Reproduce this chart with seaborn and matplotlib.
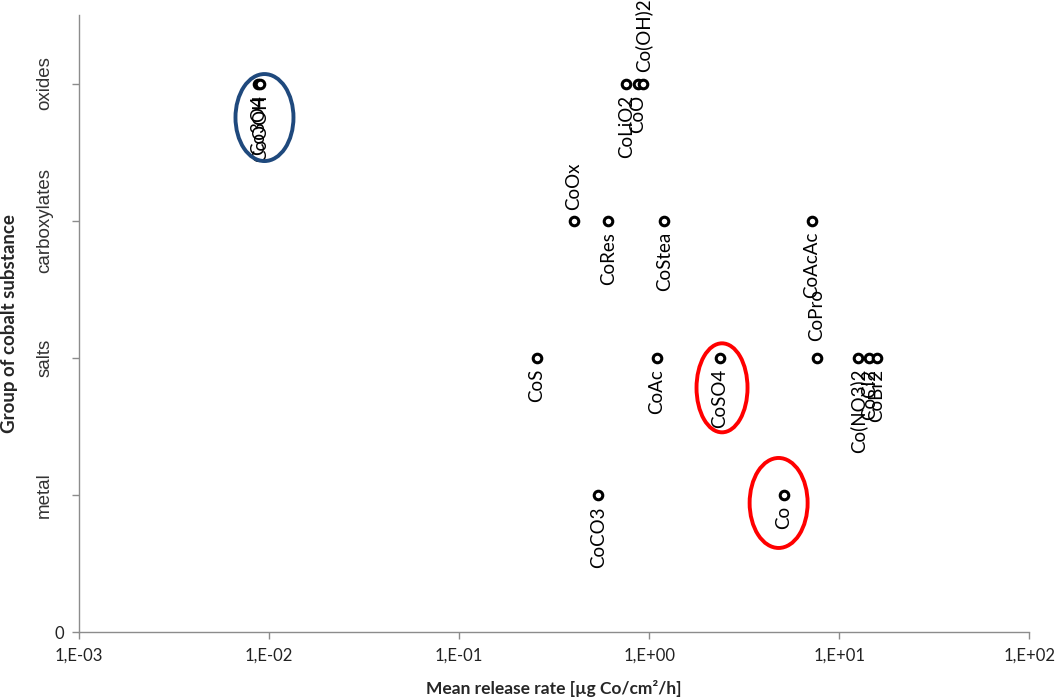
import matplotlib
matplotlib.use("Agg")
import matplotlib.pyplot as plt
import seaborn as sns
import pandas as pd
from matplotlib.patches import Ellipse
from matplotlib.transforms import ScaledTranslation

# Cobalt substances, grouped by type, with their mean release rates
substances = ["Co3O4", "CoOOH", "CoLiO2", "CoO", "Co(OH)2",
              "CoOx", "CoRes", "CoStea", "CoAcAc",
              "CoS", "CoAc", "CoSO4", "CoPro", "Co(NO3)2", "CoCl2", "CoBr2",
              "CoCO3", "Co"]
release_rate = [0.0088, 0.0090, 0.76, 0.87, 0.93,
                0.40, 0.61, 1.20, 7.2,
                0.257, 1.10, 2.36, 7.6, 12.6, 14.4, 15.8,
                0.54, 5.1]
group_level = [4, 4, 4, 4, 4,
               3, 3, 3, 3,
               2, 2, 2, 2, 2, 2, 2,
               1, 1]
group_names = ["metal", "salts", "carboxylates", "oxides"]
x_ticks = [1e-3, 1e-2, 1e-1, 1e0, 1e1, 1e2]
x_tick_labels = ["1,E-03", "1,E-02", "1,E-01", "1,E+00", "1,E+01", "1,E+02"]

# labels drawn above their marker (all others go below), with their gap in points
label_above = {"Co(OH)2": 8, "CoOx": 8, "CoPro": 12}

df = pd.DataFrame({"substance": substances, "rate": release_rate, "group": group_level})

sns.set_theme(style="white")
plt.rcParams["font.family"] = ["Lato", "DejaVu Sans"]

fig = plt.figure(figsize=(10.6, 7.0), dpi=100)
ax = fig.add_axes([0.0745, 0.097, 0.8965, 0.8816])

sns.scatterplot(data=df, x="rate", y="group", ax=ax, marker="o", s=38,
                color="white", edgecolor="black", linewidth=2.2, zorder=3, legend=False)

ax.set_xscale("log")
ax.set_xlim(1e-3, 1e2)
ax.set_ylim(0, 4.5)
ax.set_xticks(x_ticks)
ax.set_xticklabels(x_tick_labels, fontsize=12, color="#222222")
ax.xaxis.set_minor_locator(matplotlib.ticker.NullLocator())
ax.set_yticks([0, 1, 2, 3, 4])
ax.set_yticklabels(["0", "", "", "", ""], fontsize=12, color="#222222")

# category names for the y levels
for lvl, name in enumerate(group_names, start=1):
    ax.text(-0.036, lvl, name, transform=ax.get_yaxis_transform(), rotation=90,
            ha="center", va="center", fontsize=13.5, family="Liberation Sans", color="#333333")

for side in ["top", "right"]:
    ax.spines[side].set_visible(False)
for side in ["left", "bottom"]:
    ax.spines[side].set_color("#8c8c8c")
    ax.spines[side].set_linewidth(1.0)
ax.tick_params(axis="both", which="major", length=5, width=1.0, color="#8c8c8c",
               direction="out", bottom=True, left=True, pad=6)
ax.grid(False)

ax.set_xlabel("Mean release rate [µg Co/cm²/h]", fontsize=12.5, fontweight="bold")
ax.set_ylabel("Group of cobalt substance", fontsize=13.5, fontweight="bold")
ax.xaxis.set_label_coords(0.5, -0.078)
ax.yaxis.set_label_coords(-0.064, 0.5)

# rotated name labels next to each point
for name, x, y in zip(substances, release_rate, group_level):
    if name in label_above:
        off, va = label_above[name], "bottom"
    else:
        off, va = -8, "top"
    ax.annotate(name, (x, y), xytext=(0, off), textcoords="offset points",
                rotation=90, ha="center", va=va,
                fontsize=13.5, color="black", annotation_clip=False)

# highlight rings around selected substances (offsets and sizes in inches)
highlights = [("Co3O4", "#1F497D", 0.06, -0.34, 0.58, 0.87),
              ("CoSO4", "#FF0000", 0.02, -0.30, 0.51, 0.89),
              ("Co", "#FF0000", -0.05, -0.08, 0.58, 0.90)]
for name, col, dx, dy, w, h in highlights:
    i = substances.index(name)
    tr = fig.dpi_scale_trans + ScaledTranslation(release_rate[i], group_level[i], ax.transData)
    ax.add_patch(Ellipse((dx, dy), w, h, transform=tr, fill=False,
                         edgecolor=col, linewidth=2.8, zorder=4, clip_on=False))

fig.savefig("out.png", dpi=100)
